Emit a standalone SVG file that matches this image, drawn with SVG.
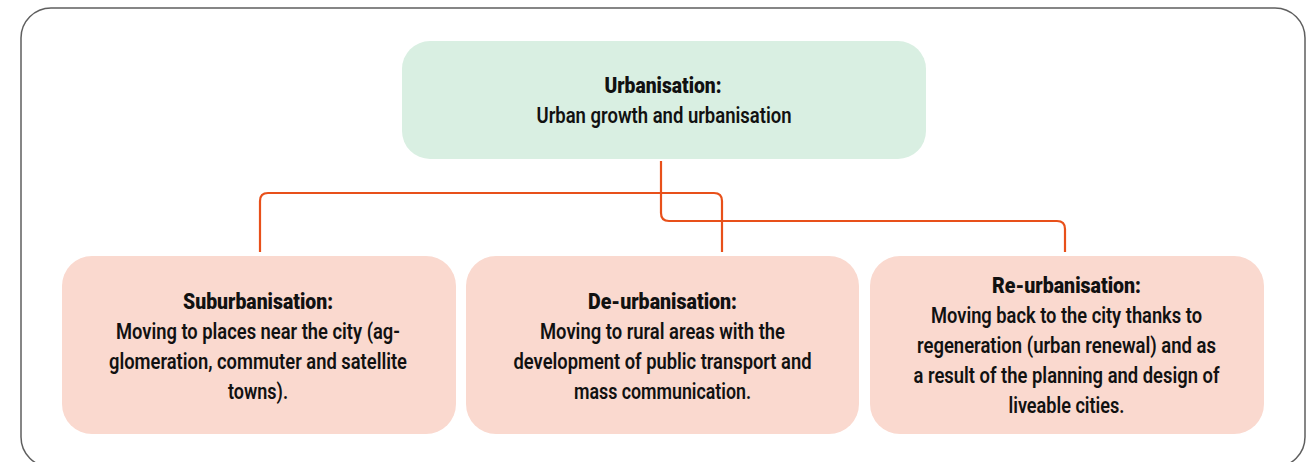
<svg xmlns="http://www.w3.org/2000/svg" width="1310" height="462" viewBox="0 0 1310 462">
<style>
.frame{fill:#ffffff;stroke:#5f5f5f;stroke-width:1.5}
.top{fill:#d9efe2}
.sub{fill:#fad9cf}
.conn{fill:none;stroke:#e8501a;stroke-width:2.2}
text{font-family:Roboto,"Liberation Sans",sans-serif;font-size:21.5px;fill:#111;text-anchor:middle}
.t{font-weight:900}
.b{font-weight:600}
</style>
<rect class="frame" x="21" y="8" width="1284" height="459" rx="30"/>
<g id="connectors">
<path class="conn" d="M661,161 V213 Q661,221 669,221 H1057 Q1065,221 1065,229 V252"/>
<path class="conn" d="M260,252 V201 Q260,193 268,193 H714 Q722,193 722,201 V252"/>
</g>
<g id="urbanisation">
<rect class="top" x="402" y="41" width="524" height="118" rx="28"/>
<text class="t" x="663" y="93" textLength="117" lengthAdjust="spacingAndGlyphs">Urbanisation:</text>
<text class="b" x="664" y="123" textLength="255" lengthAdjust="spacingAndGlyphs">Urban growth and urbanisation</text>
</g>
<g id="suburbanisation">
<rect class="sub" x="62" y="256" width="394" height="178" rx="30"/>
<text class="t" x="258" y="309" textLength="150" lengthAdjust="spacingAndGlyphs">Suburbanisation:</text>
<text class="b" x="258" y="339" textLength="284" lengthAdjust="spacingAndGlyphs">Moving to places near the city (ag-</text>
<text class="b" x="258" y="369" textLength="298" lengthAdjust="spacingAndGlyphs">glomeration, commuter and satellite</text>
<text class="b" x="258" y="399" textLength="60" lengthAdjust="spacingAndGlyphs">towns).</text>
</g>
<g id="deurbanisation">
<rect class="sub" x="466" y="256" width="393" height="178" rx="30"/>
<text class="t" x="662.5" y="309" textLength="149" lengthAdjust="spacingAndGlyphs">De-urbanisation:</text>
<text class="b" x="662.5" y="339" textLength="245" lengthAdjust="spacingAndGlyphs">Moving to rural areas with the</text>
<text class="b" x="662.5" y="369" textLength="298" lengthAdjust="spacingAndGlyphs">development of public transport and</text>
<text class="b" x="662.5" y="399" textLength="177" lengthAdjust="spacingAndGlyphs">mass communication.</text>
</g>
<g id="reurbanisation">
<rect class="sub" x="870" y="256" width="394" height="178" rx="30"/>
<text class="t" x="1066.5" y="293" textLength="149" lengthAdjust="spacingAndGlyphs">Re-urbanisation:</text>
<text class="b" x="1066.5" y="323" textLength="271" lengthAdjust="spacingAndGlyphs">Moving back to the city thanks to</text>
<text class="b" x="1066.5" y="353" textLength="299" lengthAdjust="spacingAndGlyphs">regeneration (urban renewal) and as</text>
<text class="b" x="1066.5" y="383" textLength="306" lengthAdjust="spacingAndGlyphs">a result of the planning and design of</text>
<text class="b" x="1066.5" y="413" textLength="116" lengthAdjust="spacingAndGlyphs">liveable cities.</text>
</g>
</svg>
